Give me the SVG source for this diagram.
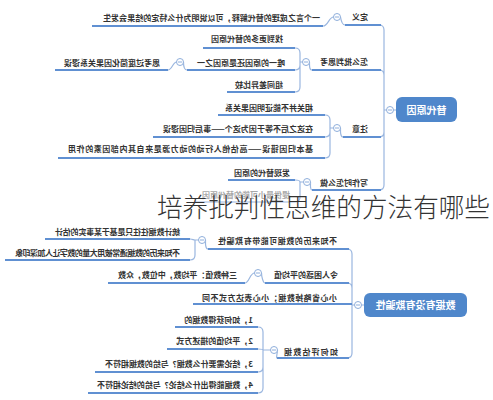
<svg xmlns="http://www.w3.org/2000/svg" width="493" height="400" viewBox="0 0 493 400">
<style>
.t{font-family:"Noto Sans CJK SC","Noto Sans CJK JP",sans-serif;font-size:8px;font-weight:700;fill:#333}
.r{font-family:"Noto Sans CJK SC","Noto Sans CJK JP",sans-serif;font-size:10px;font-weight:700;fill:#fff;text-anchor:middle}
.box{fill:#4f87cb}
.c{fill:none;stroke:#9ab6df;stroke-width:1.2}
.u{fill:none;stroke:#6090d2;stroke-width:2}
.k{fill:#fff;stroke:#8eaedb;stroke-width:1}
.m{stroke:#8eaedb;stroke-width:1}
.title{font-family:"Noto Sans CJK SC","Noto Sans CJK JP",sans-serif;font-size:25.6px;font-weight:300;fill:#333}
</style>
<rect width="493" height="400" fill="#fff"/>
<g transform="matrix(-1 0 0 1 493 0)">
<g id="connectors">
<!-- root 1 -->
<path class="c" d="M97,110 H99.5 M106.5,110 H109 M109,110 V30 Q109,25 114,25 M109,110 V75 Q109,70 114,70 M109,110 V132 Q109,137 114,137 M109,110 V185 Q109,190 114,190"/>
<path class="u" d="M112,25 H148 M112,70 H181 M112,137 H150 M112,190 H181"/>
<path class="c" d="M148,25 C151,25 152,20 152.5,17 M159.5,17 C164,17 165,26 170,26"/>
<path class="u" d="M170,26 H401"/>
<path class="c" d="M181,70 C184,70 183.5,64 183.5,62 M190.5,62 H193 M193,62 V53 Q193,48 198,48 M193,62 V65 Q193,70 198,70 M193,62 V87 Q193,92 198,92"/>
<path class="u" d="M198,48 H290 M198,70 H306 M198,92 H266"/>
<path class="c" d="M306,70 C309,70 309.5,64 309.5,62 M316.5,62 C320,62 321,70 325,70"/>
<path class="u" d="M325,70 H438"/>
<path class="c" d="M150,137 C153,137 152.5,130 152.5,128 M159.5,128 H163 M163,128 V120 Q163,115 168,115 M163,128 V132 Q163,137 168,137 M163,128 V153 Q163,158 168,158"/>
<path class="u" d="M168,115 H275 M168,137 H340 M168,158 H435"/>
<path class="c" d="M181,190 C183,190 182.5,184 182.5,182 M189.5,182 H193 Q193,180 198,180 M193,182 V197 Q193,202 198,202"/>
<path class="u" d="M198,180 H265"/>
<path d="M198,202 H298" fill="none" stroke="#cddaee" stroke-width="2"/>
<!-- root 2 -->
<path class="c" d="M129,305 H131.5 M138.5,305 H141 M141,305 V254 Q141,249 146,249 M141,305 V288 Q141,283 146,283 M141,305 V353 Q141,358 146,358"/>
<path class="u" d="M141,304 H300 M144,249 H285 M144,283 H228 M144,358 H216"/>
<path class="c" d="M285,249 C288,249 287.5,242 287.5,240 M294.5,240 H298 C300,240 300,239 303,239 M298,240 V255 Q298,260 303,260"/>
<path class="u" d="M303,239 H448 M303,260 H488"/>
<path class="c" d="M228,283 C230,283 231.5,276 231.5,273 M238.5,273 C243,273 244,283 248,283"/>
<path class="u" d="M248,283 H385"/>
<path class="c" d="M216,358 C217,358 215.5,352 215.5,350 M222.5,350 H230 M230,350 V332 Q230,327 235,327 M230,350 Q230,349 235,349 M230,350 V367 Q230,372 235,372 M230,350 V388 Q230,393 235,393"/>
<path class="u" d="M235,327 H318 M235,349 H326 M235,372 H398 M235,393 H405"/>
</g>
<g id="root-tidai">
<rect class="box" x="36" y="97" width="61" height="25" rx="6"/>
<text class="r" x="66.5" y="113.5">替代原因</text>
<circle class="k" cx="103" cy="110" r="3.5"/><path class="m" d="M101,110 H105"/>
</g>
<g id="n-dingyi">
<text class="t" x="125" y="19.5">定义</text>
<circle class="k" cx="156" cy="17" r="3.5"/><path class="m" d="M154,17 H158"/>
</g>
<g id="n-dingyi-1"><text class="t" x="173" y="20.5" textLength="217" lengthAdjust="spacing">一个言之成理的替代解释，可以说明为什么特定的结果会发生</text></g>
<g id="n-pipan">
<text class="t" x="125" y="65">怎么批判思考</text>
<circle class="k" cx="187" cy="62" r="3.5"/><path class="m" d="M185,62 H189"/>
</g>
<g id="n-pipan-1"><text class="t" x="210" y="41.5">找到更多的替代原因</text></g>
<g id="n-pipan-2">
<text class="t" x="208" y="65.5">唯一的原因还是原因之一</text>
<circle class="k" cx="313" cy="62" r="3.5"/><path class="m" d="M311,62 H315"/>
</g>
<g id="n-pipan-2-1"><text class="t" x="333" y="65.5">思考过度简化因果关系谬误</text></g>
<g id="n-pipan-3"><text class="t" x="210" y="87.5">组间差异比较</text></g>
<g id="n-zhuyi">
<text class="t" x="125" y="131.5">注意</text>
<circle class="k" cx="156" cy="128" r="3.5"/><path class="m" d="M154,128 H158"/>
</g>
<g id="n-zhuyi-1"><text class="t" x="180" y="110.5">相关并不能证明因果关系</text></g>
<g id="n-zhuyi-2"><text class="t" x="180" y="131.5" textLength="150" lengthAdjust="spacing">在这之后不等于因为这个——事后归因谬误</text></g>
<g id="n-zhuyi-3"><text class="t" x="180" y="152" textLength="245" lengthAdjust="spacing">基本归因错误——高估他人行动的动力源是来自其内部因素的作用</text></g>
<g id="n-xiezuo">
<text class="t" x="125" y="185.5">写作时怎么做</text>
<circle class="k" cx="186" cy="182" r="3.5"/><path class="m" d="M184,182 H188"/>
</g>
<g id="n-xiezuo-1"><text class="t" x="203" y="175.5">发现替代的原因</text></g>
<g id="n-xiezuo-2"><text class="t" x="203" y="197.5" style="fill:#a8a8a8">提供最小可能的替代原因</text></g>
<g id="root-shuju">
<rect class="box" x="26" y="293" width="103" height="24" rx="6"/>
<text class="r" x="77.5" y="308.5">数据有没有欺骗性</text>
<circle class="k" cx="135" cy="305" r="3.5"/><path class="m" d="M133,305 H137"/>
</g>
<g id="n-laili">
<text class="t" x="156" y="244" textLength="119" lengthAdjust="spacing">不知来历的数据可能带有欺骗性</text>
<circle class="k" cx="291" cy="240" r="3.5"/><path class="m" d="M289,240 H293"/>
</g>
<g id="n-laili-1"><text class="t" x="313" y="235" textLength="125" lengthAdjust="spacing">统计数据往往只是基于某事实的估计</text></g>
<g id="n-laili-2"><text class="t" x="313" y="255.5" textLength="165" lengthAdjust="spacing">不知来历的数据通常被用大量的数字让人加深印象</text></g>
<g id="n-pingjun">
<text class="t" x="155" y="277.5">令人困惑的平均值</text>
<circle class="k" cx="235" cy="273" r="3.5"/><path class="m" d="M233,273 H237"/>
</g>
<g id="n-pingjun-1"><text class="t" x="256" y="277.5" textLength="119" lengthAdjust="spacing">三种数值：平均数，中位数，众数</text></g>
<g id="n-shenglue"><text class="t" x="156" y="300.5" textLength="135" lengthAdjust="spacing">小心省略掉数据；小心表达方式不同</text></g>
<g id="n-pinggu">
<text class="t" x="155" y="355" textLength="54" lengthAdjust="spacing">如何评估数据</text>
<circle class="k" cx="219" cy="350" r="3.5"/><path class="m" d="M217,350 H221"/>
</g>
<g id="n-pinggu-1"><text class="t" x="240" y="322.5">1，如何获得数据的</text></g>
<g id="n-pinggu-2"><text class="t" x="240" y="344">2，平均值的描述方式</text></g>
<g id="n-pinggu-3"><text class="t" x="240" y="367" textLength="148" lengthAdjust="spacing">3，结论需要什么数据？与给的数据相符不</text></g>
<g id="n-pinggu-4"><text class="t" x="240" y="388" textLength="156" lengthAdjust="spacing">4，数据能得出什么结论？与给的结论相符不</text></g>
</g>
<text id="title" class="title" x="157" y="217" textLength="333" lengthAdjust="spacingAndGlyphs">培养批判性思维的方法有哪些</text>
</svg>
